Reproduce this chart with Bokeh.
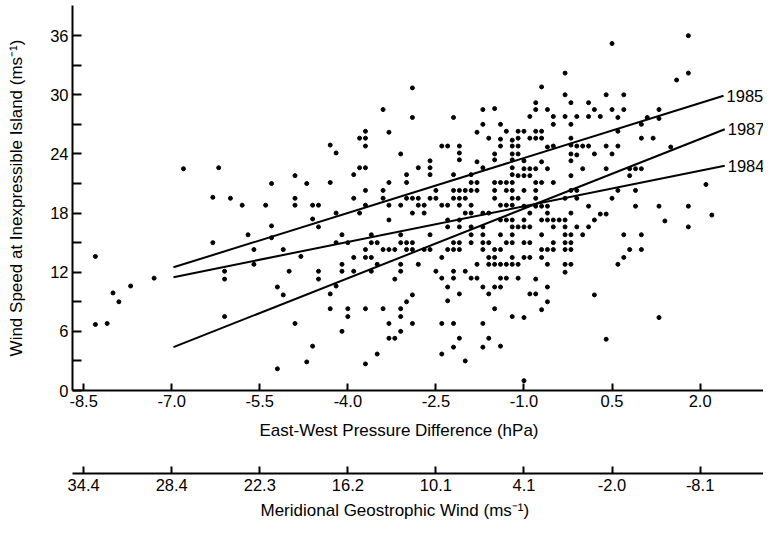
from bokeh.plotting import figure
from bokeh.models import (LinearAxis, FixedTicker, PrintfTickFormatter, Title,
                          ColumnDataSource, Range1d)
from bokeh.core.properties import value
from bokeh.embed import file_html
from bokeh.resources import INLINE

FONT = "Liberation Sans"

# East-West pressure difference (hPa) and wind speed (m/s) of each observation
pressure_diff = [
    # left part
    -6.8, -6.2, -6.3, -6.0, -5.8, -5.4, -5.3, -4.9, -4.7, -4.9, -4.9, -4.6, -4.5,
    -5.3, -5.3, -5.7, -6.3, -5.6, -5.1, -4.6, -4.5, -4.8, -5.6, -6.1, -6.1, -5.0, -4.5, -4.5,
    -5.2, -5.1, -6.1, -4.9, -4.6, -4.7, -5.2, -8.3, -8.0, -7.9, -7.7, -7.3, -8.3, -8.1,
    # upper middle
    -2.9, -3.4, -2.9, -2.2, -1.7, -1.5, -1.7, -1.4, -1.8, -1.3, -1.1, -3.7, -3.3,
    -3.8, -3.7, -1.6, -1.4, -1.2, -1.1, -4.3, -3.7, -2.4, -2.3, -2.1, -1.4, -1.2, -1.1,
    -4.2, -3.1, -2.1, -1.5, -1.2, -1.1, -2.6, -2.1, -1.8, -1.5, -1.2,
    # centre
    -3.8, -3.7, -2.8, -2.6, -1.7, -1.2,
    -3.9, -3.0, -2.6, -2.2, -1.9, -1.2,
    -4.3, -3.3, -3.0, -1.9, -1.8, -1.5, -1.4, -1.3, -1.2,
    -3.7, -3.4, -2.5, -2.2, -2.1, -2.0, -1.9, -1.8, -1.5, -1.3, -1.2,
    -3.9, -3.4, -3.0, -2.9, -2.8, -2.6, -2.5, -2.2, -2.1, -2.0, -1.5, -1.2,
    -3.7, -3.3, -3.1, -2.8, -2.7, -2.4, -2.3, -2.1, -1.9, -1.4, -1.3, -1.2,
    -4.2, -3.8, -2.9, -2.7, -2.0, -1.9, -1.7, -1.6,
    -3.3, -2.3, -2.1, -1.4, -1.3, -1.2,
    -2.3, -2.1, -1.9, -1.7, -1.2,
    -4.1, -3.6, -3.1, -2.6, -1.9, -1.7, -1.4, -1.2,
    -4.2, -4.0, -3.6, -3.5, -3.1, -3.0, -2.9, -2.2, -2.1, -1.9, -1.7, -1.6, -1.3, -1.2,
    -3.7, -3.4, -3.3, -3.2, -3.0, -2.9, -2.7, -2.6, -2.3, -2.2, -2.1, -1.7, -1.5, -1.4,
    -3.9, -3.7, -3.6, -2.4, -1.6, -1.5, -1.2,
    -4.1, -3.5, -3.1, -2.8, -1.8, -1.6, -1.5, -1.4, -1.3, -1.2,
    -4.1, -3.9, -3.6, -3.1, -2.5, -2.2, -2.0,
    # lower middle
    -3.2, -2.4, -2.2, -1.9, -1.8, -1.4, -1.3, -1.1, -4.2, -2.3, -1.7, -1.5, -1.4,
    -4.3, -2.9, -2.1, -1.6, -2.3, -3.0, -4.3, -4.0, -3.7, -3.4, -3.1, -1.5,
    -4.0, -3.1, -1.2, -3.3, -2.9, -2.4, -2.2, -1.7, -4.1, -3.1, -3.3, -3.2, -2.1, -1.6,
    -3.5, -2.4, -2.2, -1.7, -1.4, -2.0, -3.7, -1.0,
    # upper right
    1.8, 0.5, 1.8, 1.6, -0.3, -0.7, -0.3, 0.4, 0.7, -0.8, -0.2, 0.1,
    -0.8, -0.6, 0.2, 0.5, 0.7, 1.3, -0.9, -0.5, -0.3, -0.1, 0.1, 0.3, 0.6, 1.1, 1.3,
    -0.5, -0.2, 1.0, -1.0, -0.8, -0.7, 0.6, -0.9, -0.8, -0.7, -0.2, 1.0, 1.2,
    -0.6, -0.5, -0.2, -0.1, 0.0, 0.1, 0.4, 0.6, 1.5, -0.2, -0.1, 0.2, 0.5, -1.0, -0.7, -0.2,
    # right centre
    -1.0, -0.9, -0.8, -0.6, 0.0, 0.4, 0.8, 0.9, 1.0,
    -1.1, -1.0, -0.9, -0.2, 0.8,
    -0.8, -0.7, -0.5,
    -1.0, -0.8, -0.2, -0.1, 0.6, 0.9, 2.1,
    -1.1, -0.8, -0.3, -0.1, 0.5,
    -1.0, -0.8, -0.7, -0.6, 0.1, 0.9, 1.3, 1.8,
    -0.9, -0.6, -0.2, 0.3, 0.4, 2.2, 1.4,
    -1.0, -0.7, -0.6, -0.5, -0.4, -0.3, 0.2,
    -1.1, -1.0, -0.9, -0.5, -0.3, -0.1, 0.1, 1.8,
    -0.7, -0.3, -0.2, 0.0, 0.7, 1.0,
    -1.0, -0.9, -0.5, -0.3, -0.2,
    -0.7, -0.6, -0.5, -0.3, -0.2, 0.8, 1.0,
    -1.0, -0.9, -0.7, 0.7,
    -1.1, -0.6, -0.3, -0.2, 0.6,
    -0.3,
    # lower right
    -0.8, -0.6, -0.9, -0.8, 0.2, -0.6, -0.7, -1.0, 1.3, 0.4,
]

wind_speed = [
    # left part
    22.5, 22.6, 19.6, 19.5, 18.8, 18.8, 21.0, 21.8, 21.0, 19.5, 18.8, 18.8, 18.8,
    16.7, 15.5, 15.8, 15.0, 14.3, 14.3, 17.4, 16.6, 13.6, 12.8, 12.1, 11.3, 12.1, 12.1, 11.3,
    10.5, 9.7, 7.5, 6.8, 4.5, 2.9, 2.2, 13.6, 9.9, 9.0, 10.6, 11.4, 6.7, 6.8,
    # upper middle
    30.7, 28.5, 27.7, 27.7, 28.5, 28.6, 27.0, 27.0, 26.2, 26.3, 26.3, 26.3, 26.2,
    25.6, 25.6, 25.6, 25.5, 25.4, 25.6, 24.9, 24.8, 24.8, 24.8, 24.8, 24.8, 24.8, 24.8,
    24.1, 24.0, 24.1, 24.0, 24.0, 24.0, 23.3, 23.4, 23.2, 23.4, 23.4,
    # centre
    22.6, 22.6, 22.6, 22.6, 22.6, 22.6,
    21.9, 21.9, 21.9, 21.9, 21.9, 21.9,
    21.1, 21.1, 21.1, 21.1, 21.1, 21.1, 21.1, 21.1, 21.1,
    20.3, 20.3, 20.3, 20.3, 20.3, 20.3, 20.3, 20.3, 20.3, 20.3, 20.3,
    19.5, 19.5, 19.5, 19.5, 19.5, 19.5, 19.5, 19.5, 19.5, 19.5, 19.5, 19.5,
    18.8, 18.8, 18.8, 18.8, 18.8, 18.8, 18.8, 18.8, 18.8, 18.8, 18.8, 18.8,
    18.0, 18.0, 18.0, 18.0, 18.0, 18.0, 18.0, 18.0,
    17.3, 17.3, 17.3, 17.3, 17.3, 17.3,
    16.6, 16.6, 16.6, 16.6, 16.6,
    15.8, 15.8, 15.8, 15.8, 15.8, 15.8, 15.8, 15.8,
    15.0, 15.0, 15.0, 15.0, 15.0, 15.0, 15.0, 15.0, 15.0, 15.0, 15.0, 15.0, 15.0, 15.0,
    14.3, 14.3, 14.3, 14.3, 14.3, 14.3, 14.3, 14.3, 14.3, 14.3, 14.3, 14.3, 14.3, 14.3,
    13.5, 13.5, 13.5, 13.5, 13.5, 13.5, 13.5,
    12.8, 12.8, 12.8, 12.8, 12.8, 12.8, 12.8, 12.8, 12.8, 12.8,
    12.1, 12.1, 12.1, 12.1, 12.1, 12.1, 12.1,
    # lower middle
    11.3, 11.4, 11.4, 11.4, 11.4, 11.4, 11.4, 11.4, 10.6, 10.5, 10.5, 10.5, 10.5,
    9.8, 9.7, 9.8, 9.8, 9.1, 9.0, 8.3, 8.3, 8.3, 8.3, 8.3, 8.3,
    7.5, 7.5, 7.5, 6.8, 6.8, 6.8, 6.8, 6.8, 6.0, 6.0, 5.3, 5.3, 5.3, 5.3,
    3.7, 3.7, 4.4, 4.4, 4.5, 3.0, 2.7, 1.0,
    # upper right
    36.0, 35.2, 32.2, 31.5, 32.2, 30.8, 30.0, 30.0, 30.0, 29.2, 29.2, 29.2,
    28.5, 28.5, 28.5, 28.5, 28.5, 28.5, 27.8, 27.8, 27.8, 27.8, 27.8, 27.8, 27.7, 27.7, 27.6,
    27.0, 27.0, 27.0, 26.3, 26.3, 26.3, 26.3, 25.6, 25.6, 25.6, 25.6, 25.6, 25.6,
    24.7, 24.8, 24.9, 24.8, 24.8, 24.8, 24.8, 24.8, 24.7, 24.0, 23.9, 24.0, 24.0, 23.3, 23.2, 23.3,
    # right centre
    22.5, 22.5, 22.5, 22.5, 22.5, 22.5, 22.5, 22.5, 22.5,
    21.8, 21.8, 21.8, 21.8, 21.8,
    21.1, 21.1, 21.1,
    20.3, 20.3, 20.3, 20.3, 20.3, 20.3, 20.9,
    19.5, 19.5, 19.5, 19.5, 19.5,
    18.7, 18.7, 18.7, 18.7, 18.7, 18.7, 18.7, 18.7,
    18.0, 18.0, 18.0, 17.9, 17.9, 17.8, 17.2,
    17.3, 17.3, 17.3, 17.3, 17.3, 17.3, 17.3,
    16.6, 16.6, 16.6, 16.6, 16.6, 16.6, 16.6, 16.6,
    15.8, 15.8, 15.8, 15.8, 15.8, 15.8,
    15.0, 15.0, 15.0, 15.0, 15.0,
    14.3, 14.3, 14.3, 14.3, 14.3, 14.3, 14.3,
    13.5, 13.5, 13.5, 13.5,
    12.8, 12.8, 12.8, 12.8, 12.8,
    12.0,
    # lower right
    11.3, 10.5, 9.8, 9.8, 9.7, 9.0, 8.2, 7.4, 7.4, 5.2,
]
assert len(pressure_diff) == len(wind_speed)

# regression lines for each year
years = ["1985", "1987", "1984"]
fit_x_start = [-6.97, -6.97, -6.97]
fit_x_end = [2.40, 2.42, 2.42]
fit_y_start = [12.5, 4.4, 11.5]
fit_y_end = [29.9, 26.5, 22.8]

# axis ticks
x_ticks = [-8.5, -7.0, -5.5, -4.0, -2.5, -1.0, 0.5, 2.0]
meridional_labels = ["34.4", "28.4", "22.3", "16.2", "10.1", "4.1", "-2.0", "-8.1"]
y_ticks = [0, 6, 12, 18, 24, 30, 36]
y_minor_ticks = [3, 9, 15, 21, 27, 33]

SIZE = "16.5px"
TITLE_SIZE = "17px"

p = figure(width=763, height=521, output_backend="svg", toolbar_location=None,
           x_range=Range1d(-8.69, 3.08), y_range=Range1d(0, 39.06),
           min_border_left=72, min_border_right=0, min_border_top=5,
           min_border_bottom=129)
p.outline_line_color = None
p.xgrid.visible = False
p.ygrid.visible = False
p.background_fill_color = "white"
p.border_fill_color = "white"


def style_axis(ax):
    ax.axis_line_width = 2
    ax.axis_line_color = "black"
    ax.major_tick_line_width = 2
    ax.major_tick_line_color = "black"
    ax.major_tick_out = 0
    ax.major_label_text_font = FONT
    ax.major_label_text_font_size = SIZE
    ax.major_label_text_color = "black"
    ax.axis_label_text_font = FONT
    ax.axis_label_text_font_style = "normal"
    ax.axis_label_text_font_size = TITLE_SIZE
    ax.axis_label_text_color = "black"


def spacer(height):
    # an empty axis whose only job is to leave a gap of the given height
    return LinearAxis(ticker=FixedTicker(ticks=[-8.6]), major_tick_out=height,
                      major_tick_in=0, major_tick_line_color="white",
                      axis_line_color=None, minor_tick_line_color=None,
                      major_label_text_color=None, major_label_text_font_size="1px",
                      major_label_standoff=0)


def below_title(text, offset, standoff):
    return Title(text=text, align="left", offset=offset, vertical_align="top",
                 standoff=standoff, text_font=FONT, text_font_size=TITLE_SIZE,
                 text_font_style="normal", text_color="black")


# primary x axis
xa = p.xaxis[0]
style_axis(xa)
xa.ticker = FixedTicker(ticks=x_ticks)
xa.formatter = PrintfTickFormatter(format="%.1f")
xa.major_tick_in = 7
xa.minor_tick_line_color = None
xa.major_label_standoff = 4

# y axis
ya = p.yaxis[0]
style_axis(ya)
ya.ticker = FixedTicker(ticks=y_ticks, minor_ticks=y_minor_ticks)
ya.major_tick_in = 9
ya.minor_tick_in = 9
ya.minor_tick_out = 0
ya.minor_tick_line_width = 2
ya.minor_tick_line_color = "black"
ya.major_label_standoff = 4
ya.axis_label = "Wind Speed at Inexpressible Island (ms\u207b\u00b9)"
ya.axis_label_standoff = 21

# title of the primary axis, then a gap, then the secondary axis and its title
p.add_layout(below_title("East-West Pressure Difference (hPa)", 187, 22), "below")
p.add_layout(spacer(21), "below")

xb = LinearAxis(ticker=FixedTicker(ticks=x_ticks),
                major_label_overrides=dict(zip(x_ticks, meridional_labels)))
style_axis(xb)
xb.major_tick_in = 7
xb.minor_tick_line_color = None
xb.major_label_standoff = 5
p.add_layout(xb, "below")
p.add_layout(spacer(7), "below")
p.add_layout(below_title("Meridional Geostrophic Wind (ms\u207b\u00b9)", 188, 0), "below")

# scatter points
p.scatter(pressure_diff, wind_speed, size=4, color="black")

# regression lines with year labels
fits = ColumnDataSource(dict(x0=fit_x_start, y0=fit_y_start, x1=fit_x_end,
                             y1=fit_y_end, year=years))
p.segment(x0="x0", y0="y0", x1="x1", y1="y1", source=fits, line_width=2,
          line_color="black")
p.text(x="x1", y="y1", text="year", source=fits, x_offset=3,
       text_baseline="middle", text_align="left", text_font=value(FONT),
       text_font_size=value(SIZE), text_color="black")

open("out.html", "w").write(file_html(p, INLINE))
